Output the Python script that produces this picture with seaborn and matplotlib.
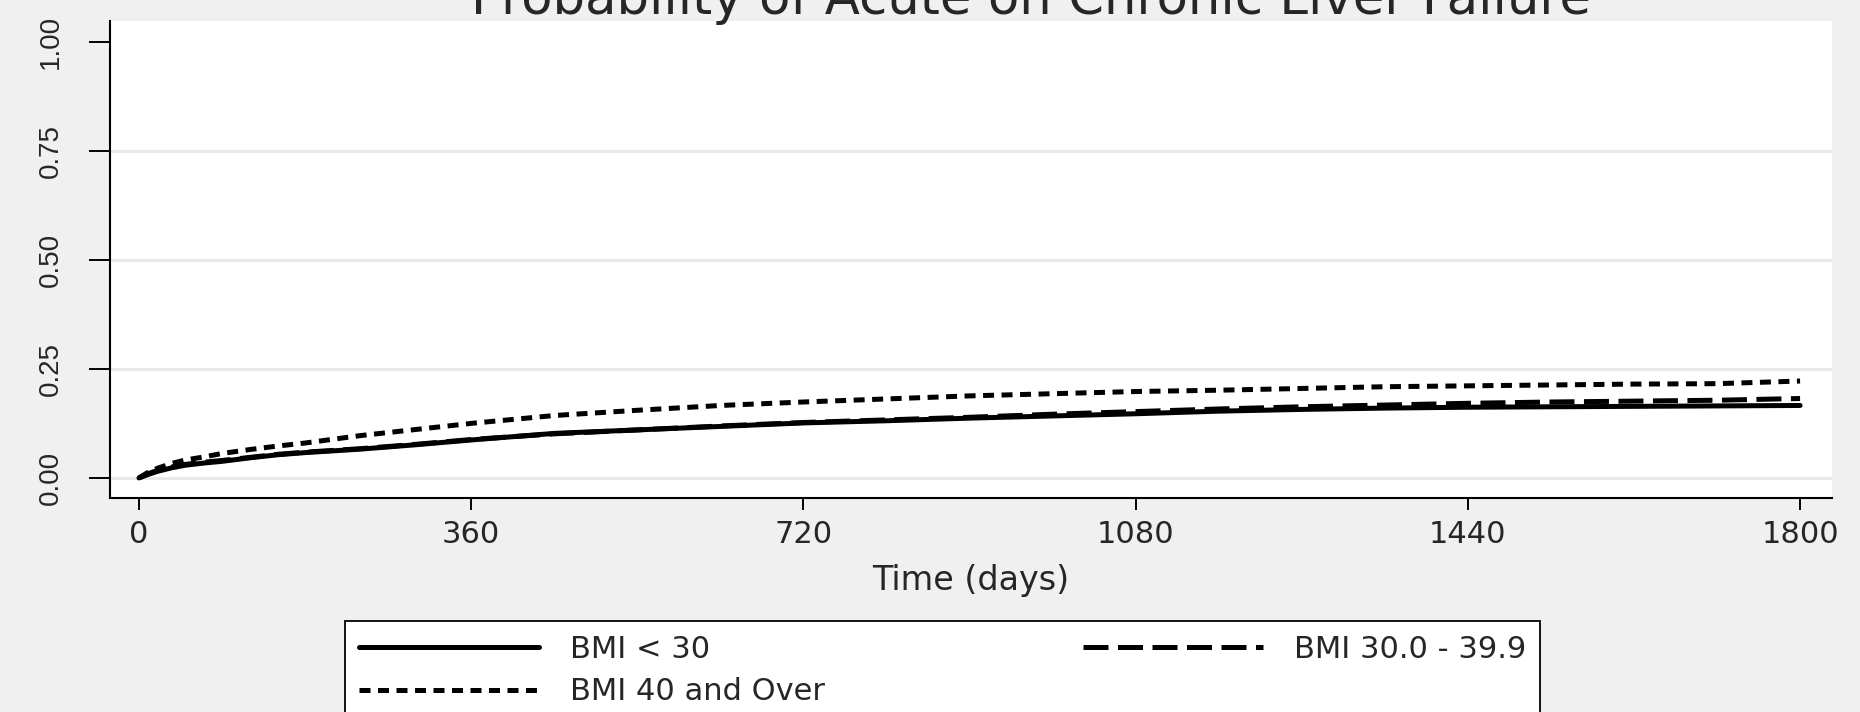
import pandas as pd
import matplotlib.pyplot as plt
import seaborn as sns

# Kaplan-Meier failure estimates (days -> probability)
days = [0, 10, 20, 35, 50, 70, 90, 120, 150, 180, 240, 300, 360, 450, 540,
        630, 720, 810, 900, 990, 1080, 1170, 1260, 1350, 1440, 1530, 1620,
        1710, 1800]
bmi_under_30 = [0, 0.008, 0.015, 0.023, 0.029, 0.034, 0.038, 0.046, 0.053,
                0.058, 0.066, 0.076, 0.087, 0.102, 0.110, 0.118, 0.126, 0.131,
                0.137, 0.142, 0.147, 0.153, 0.157, 0.160, 0.162, 0.163, 0.164,
                0.165, 0.166]
bmi_30_39 = [0, 0.010, 0.017, 0.025, 0.031, 0.036, 0.040, 0.047, 0.054,
             0.059, 0.067, 0.077, 0.088, 0.101, 0.110, 0.119, 0.127, 0.133,
             0.139, 0.146, 0.152, 0.158, 0.163, 0.167, 0.171, 0.174, 0.176,
             0.178, 0.182]
bmi_40_over = [0, 0.013, 0.022, 0.033, 0.041, 0.048, 0.056, 0.065, 0.073,
               0.080, 0.097, 0.111, 0.125, 0.143, 0.155, 0.166, 0.174, 0.181,
               0.188, 0.193, 0.198, 0.201, 0.205, 0.209, 0.211, 0.213, 0.215,
               0.216, 0.222]

x_ticks = [0, 360, 720, 1080, 1440, 1800]
y_ticks = [0, 0.25, 0.5, 0.75, 1.0]

series = [
    ("BMI < 30", bmi_under_30, "-"),
    ("BMI 30.0 - 39.9", bmi_30_39, (0, (5.0, 1.9))),
    ("BMI 40 and Over", bmi_40_over, (0, (2.2, 1.5))),
]


def main():
    sns.set_style("white")
    plt.rcParams["font.family"] = ["DejaVu Sans"]

    W, H = 1860, 712
    fig = plt.figure(figsize=(W / 100, H / 100), dpi=100)
    fig.patch.set_facecolor("#f0f0f0")
    ax = fig.add_axes([110 / W, 1 - 498 / H, (1832 - 110) / W, (498 - 21) / H])
    ax.set_facecolor("white")

    lines = {}
    for name, vals, ls in series:
        df = pd.DataFrame({"t": days, "p": vals})
        sns.lineplot(data=df, x="t", y="p", ax=ax, color="black",
                     linewidth=3.6, linestyle=ls, label=name, legend=False)
        lines[name] = ax.get_lines()[-1]

    ax.set_xlim(-31.4, 1834.6)
    ax.set_ylim(-0.046, 1.047)
    ax.set_xticks(x_ticks)
    ax.set_yticks(y_ticks)
    ax.set_yticklabels([f"{v:.2f}" for v in y_ticks], rotation=90, va="center",
                       family="Liberation Sans")

    ax.yaxis.grid(True, color="#e8e8e8", linewidth=2.2)
    ax.set_axisbelow(True)
    ax.yaxis.get_gridlines()[-1].set_visible(False)

    for s in ["top", "right"]:
        ax.spines[s].set_visible(False)
    for s in ["left", "bottom"]:
        ax.spines[s].set_color("black")
        ax.spines[s].set_linewidth(1.5)

    ax.tick_params(axis="x", length=8.6, width=1.4, pad=7, labelsize=22,
                   bottom=True, color="black")
    ax.tick_params(axis="y", length=15, width=1.4, pad=18.5, labelsize=20,
                   left=True, color="black")

    ax.set_xlabel("Time (days)", fontsize=24, labelpad=11)
    ax.set_ylabel("")

    fig.text(1031 / W, 1 - 14 / H, "Probability of Acute on Chronic Liver Failure",
             ha="center", va="baseline", fontsize=37)

    order = ["BMI < 30", "BMI 40 and Over", "BMI 30.0 - 39.9"]
    leg = fig.legend([lines[n] for n in order], order, ncol=2,
                     loc="upper left", mode="expand",
                     bbox_to_anchor=(345 / W, 0, (1540 - 345) / W, 1 - 621 / H),
                     borderaxespad=0, fontsize=22, frameon=True, fancybox=False,
                     handlelength=5.9, handletextpad=1.0, columnspacing=2.0,
                     labelspacing=0.45, borderpad=0.45)
    leg.get_frame().set_edgecolor("black")
    leg.get_frame().set_linewidth(1.3)
    leg.get_frame().set_facecolor("white")
    leg.get_frame().set_alpha(1)

    plt.savefig("out.png", dpi=100, facecolor=fig.get_facecolor())


if __name__ == "__main__":
    main()
